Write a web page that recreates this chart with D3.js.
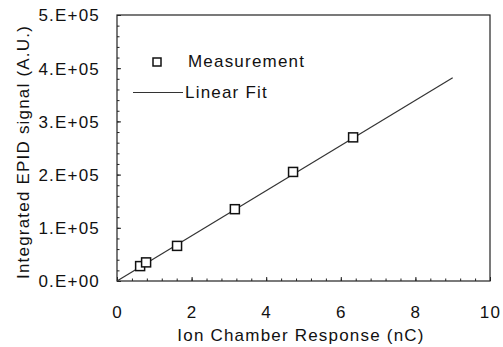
<!DOCTYPE html>
<html><head><meta charset="utf-8">
<script src="https://cdn.jsdelivr.net/npm/d3@7"></script>
<style>
body{margin:0;background:#fff;}
text{font-family:"Liberation Sans",Arial,sans-serif;fill:#111;letter-spacing:1.2px;}
</style></head><body>
<svg id="c" width="503" height="347"></svg>
<script>
const measX = [0.62, 0.78, 1.61, 3.16, 4.72, 6.33];
const measY = [28000, 35000, 66000, 135000, 205000, 270000];
const fitX = [0, 9];
const fitY = [0, 382000];
const xTicks = [0, 2, 4, 6, 8, 10];
const yTicks = [0, 100000, 200000, 300000, 400000, 500000];
const yTickLabels = ["0.E+00", "1.E+05", "2.E+05", "3.E+05", "4.E+05", "5.E+05"];
const xTitle = "Ion Chamber Response (nC)";
const yTitle = "Integrated EPID signal (A.U.)";
const legendLabels = ["Measurement", "Linear Fit"];

const svg = d3.select("#c");
const L = 117, R = 490, T = 15, B = 281;
const x = d3.scaleLinear().domain([0, 10]).range([L, R]);
const y = d3.scaleLinear().domain([0, 500000]).range([B, T]);

// frame
svg.append("rect").attr("x", L).attr("y", T).attr("width", R - L).attr("height", B - T)
  .attr("fill", "none").attr("stroke", "#222").attr("stroke-width", 1.2);

// x axis ticks (inward)
const xMinor = d3.range(0, 10.001, 0.4);
const xAx = d3.axisBottom(x).tickValues(xMinor).tickSize(-2.5).tickFormat("");
svg.append("g").attr("transform", `translate(0,${B})`).call(xAx)
  .call(g => g.select(".domain").remove())
  .call(g => g.selectAll("line").attr("stroke", "#222"));
const xMaj = d3.axisBottom(x).tickValues(xTicks).tickSize(-4).tickPadding(0).tickFormat(d3.format("d"));
const gx = svg.append("g").attr("transform", `translate(0,${B})`).call(xMaj);
gx.select(".domain").remove();
gx.selectAll("line").attr("stroke", "#222");
gx.selectAll("text").attr("y", 0).attr("dy", 0).attr("transform", "translate(0,37)")
  .style("font-size", "17px").attr("fill", "#111").attr("font-family", null);

// y axis ticks (inward)
const yMinor = d3.range(0, 500001, 20000);
const yAx = d3.axisLeft(y).tickValues(yMinor).tickSize(-2.5).tickFormat("");
svg.append("g").attr("transform", `translate(${L},0)`).call(yAx)
  .call(g => g.select(".domain").remove())
  .call(g => g.selectAll("line").attr("stroke", "#222"));
const yMaj = d3.axisLeft(y).tickValues(yTicks).tickSize(-4)
  .tickFormat((d, i) => yTickLabels[i]);
const gy = svg.append("g").attr("transform", `translate(${L},0)`).call(yMaj);
gy.select(".domain").remove();
gy.selectAll("line").attr("stroke", "#222");
gy.selectAll("text").attr("x", -17).attr("dy", "0.35em")
  .style("font-size", "17px").attr("fill", "#111").attr("font-family", null);

// fit line
svg.append("path").datum(fitX.map((d, i) => [d, fitY[i]]))
  .attr("d", d3.line().x(d => x(d[0])).y(d => y(d[1])))
  .attr("fill", "none").attr("stroke", "#333").attr("stroke-width", 1.2);

// measurements
svg.append("g").selectAll("rect").data(measX.map((d, i) => [d, measY[i]])).join("rect")
  .attr("x", d => x(d[0]) - 4.5).attr("y", d => y(d[1]) - 4.5)
  .attr("width", 9).attr("height", 9)
  .attr("fill", "#fff").attr("stroke", "#111").attr("stroke-width", 1.5);

// legend
svg.append("rect").attr("x", 153).attr("y", 58).attr("width", 8).attr("height", 8)
  .attr("fill", "#fff").attr("stroke", "#111").attr("stroke-width", 1.5);
svg.append("text").attr("x", 188).attr("y", 67).style("font-size", "17px").text(legendLabels[0]);
svg.append("line").attr("x1", 133).attr("x2", 183).attr("y1", 92.5).attr("y2", 92.5)
  .attr("stroke", "#333").attr("stroke-width", 1.2);
svg.append("text").attr("x", 185).attr("y", 98).style("font-size", "17px").text(legendLabels[1]);

// titles
svg.append("text").attr("x", 301).attr("y", 341).attr("text-anchor", "middle")
  .style("font-size", "17px").text(xTitle);
svg.append("text").attr("transform", "translate(29,152) rotate(-90)").attr("text-anchor", "middle")
  .style("font-size", "17px").text(yTitle);
</script>
</body></html>
